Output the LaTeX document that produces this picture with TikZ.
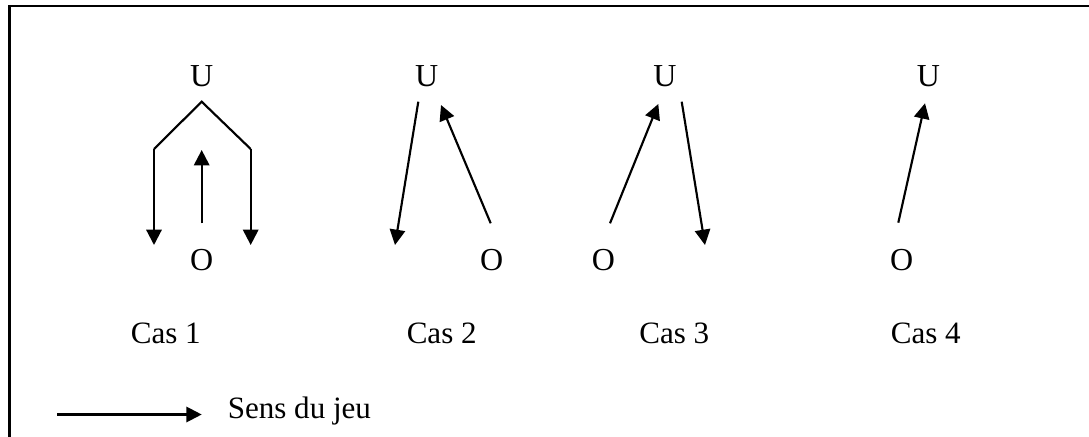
\documentclass[tikz,border=0pt]{standalone}
\usepackage{fontspec}
\setmainfont{Liberation Serif}
\usetikzlibrary{arrows.meta}
\begin{document}
\begin{tikzpicture}[x=0.75pt,y=-0.75pt,
  lbl/.style={font=\fontsize{24}{28}\selectfont, inner sep=0pt, anchor=base},
  caslbl/.style={font=\fontsize{23.3}{28}\selectfont, inner sep=0pt, anchor=base},
  conn/.style={line width=1.6pt, -{Triangle[length=11.5pt,width=11.5pt]}},
  plain/.style={line width=1.6pt},
  frame/.style={line width=1.6pt}]
\useasboundingbox (0,0) rectangle (1089,436);
% frame (top and left edges visible)
\coordinate (fb) at (9.5,440);
\coordinate (fc) at (9.5,6);
\coordinate (fr) at (1092,6);
\draw[frame] (fb) -- (fc) -- (fr);

% labels U / O
\node[lbl] (U1) at (201.7,86.7) {U};
\node[lbl] (O1) at (201.7,270) {O};
\node[lbl] (U2) at (426.7,86.7) {U};
\node[lbl] (O2) at (491.7,270) {O};
\node[lbl] (U3) at (665,86.7) {U};
\node[lbl] (O3) at (603.3,270) {O};
\node[lbl] (U4) at (928.3,86.7) {U};
\node[lbl] (O4) at (901.7,270) {O};

% case labels
\node[caslbl] (c1) at (165.8,343.3) {Cas 1};
\node[caslbl] (c2) at (441.7,343.3) {Cas 2};
\node[caslbl] (c3) at (674.3,343.3) {Cas 3};
\node[caslbl] (c4) at (925.8,343.3) {Cas 4};

% Case 1
\coordinate (ap) at (201.7,101.7);
\coordinate (lc) at (154,149);
\coordinate (lt) at (154,245);
\coordinate (rc) at (250.7,149);
\coordinate (rt) at (250.7,245);
\coordinate (us) at (201.7,223.3);
\coordinate (ut) at (201.7,150);
\draw[plain] (lc) -- (ap) -- (rc);
\draw[conn] (lc) -- (lt);
\draw[conn] (rc) -- (rt);
\draw[conn] (us) -- (ut);

% Case 2
\coordinate (s2a) at (418.3,101.7);
\coordinate (t2a) at (395,245);
\coordinate (s2b) at (490.7,223.3);
\coordinate (t2b) at (441,105);
\draw[conn] (s2a) -- (t2a);
\draw[conn] (s2b) -- (t2b);

% Case 3
\coordinate (s3a) at (610,223.3);
\coordinate (t3a) at (658.3,104);
\coordinate (s3b) at (681.7,101.7);
\coordinate (t3b) at (705,245);
\draw[conn] (s3a) -- (t3a);
\draw[conn] (s3b) -- (t3b);

% Case 4
\coordinate (s4) at (898.3,222.7);
\coordinate (t4) at (925,103.3);
\draw[conn] (s4) -- (t4);

% legend
\coordinate (ls) at (57.3,414.5);
\coordinate (lte) at (201.7,414.5);
\draw[conn] (ls) -- (lte);
\node[caslbl, anchor=base west] (leg) at (227.5,418) {Sens du jeu};
\end{tikzpicture}
\end{document}
